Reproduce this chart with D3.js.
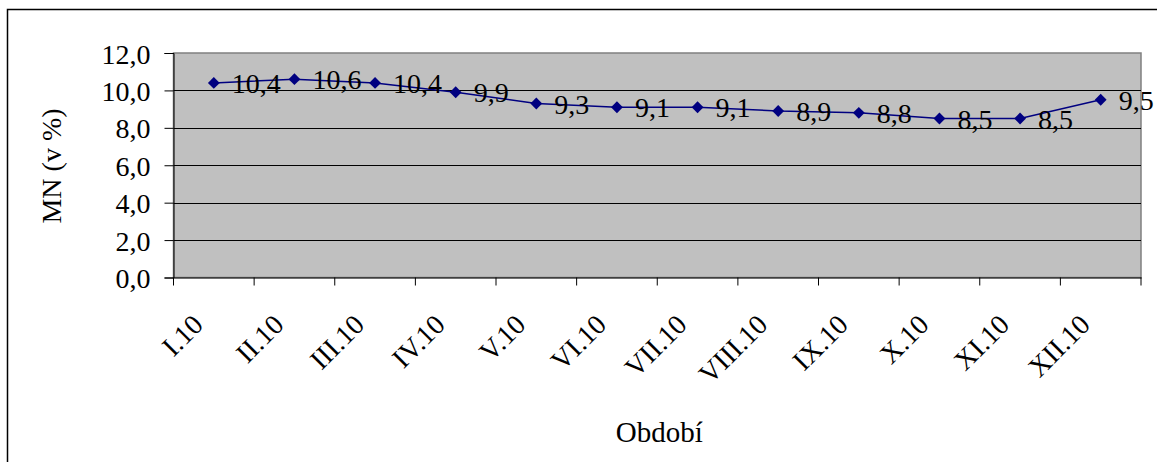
<!DOCTYPE html>
<html>
<head>
<meta charset="utf-8">
<script src="https://cdn.jsdelivr.net/npm/d3@7"></script>
<style>
  body { margin: 0; background: #fff; }
  svg { display: block; font-family: "Liberation Serif", "Times New Roman", serif; }
</style>
</head>
<body>
<script>
var categories = ["I.10", "II.10", "III.10", "IV.10", "V.10", "VI.10", "VII.10", "VIII.10", "IX.10", "X.10", "XI.10", "XII.10"];
var values = [10.4, 10.6, 10.4, 9.9, 9.3, 9.1, 9.1, 8.9, 8.8, 8.5, 8.5, 9.5];
var yTicks = [0, 2, 4, 6, 8, 10, 12];

var width = 1157, height = 462;
var plotLeft = 173.5, plotRight = 1141, plotTop = 53, plotBottom = 277.5;
var fs = 28;

var svg = d3.select("body").append("svg").attr("width", width).attr("height", height);

// outer frame of the chart
svg.append("rect")
  .attr("x", 7.5).attr("y", 9.5)
  .attr("width", 1200).attr("height", 500)
  .attr("fill", "none").attr("stroke", "#000").attr("stroke-width", 1.5);

var x = d3.scaleBand().domain(categories).range([plotLeft, plotRight]);
var y = d3.scaleLinear().domain([0, 12]).range([plotBottom, plotTop]);

svg.append("rect")
  .attr("x", plotLeft).attr("y", plotTop)
  .attr("width", plotRight - plotLeft).attr("height", plotBottom - plotTop)
  .attr("fill", "#c0c0c0").attr("stroke", "#808080").attr("stroke-width", 1.5);

// grid
svg.append("g").selectAll("line").data(yTicks.slice(1, -1)).join("line")
  .attr("x1", plotLeft).attr("x2", plotRight)
  .attr("y1", (d) => Math.round(y(d)) + 0.5).attr("y2", (d) => Math.round(y(d)) + 0.5)
  .attr("stroke", "#000");

var fmt = (d) => d.toFixed(1).replace(".", ",");

var yAxis = svg.append("g")
  .attr("transform", `translate(${plotLeft},0)`)
  .call(d3.axisLeft(y).tickValues(yTicks).tickFormat(fmt).tickSize(9).tickPadding(14));
yAxis.select(".domain").attr("stroke", "#000");
yAxis.selectAll("text").attr("font-size", fs).attr("font-family", "Liberation Serif").attr("fill", "#000").attr("dy", "0.36em");

var xAxis = svg.append("g")
  .attr("transform", `translate(0,${plotBottom})`)
  .call(d3.axisBottom(x).tickSize(0).tickFormat(""));
xAxis.select(".domain").attr("stroke", "#000");

// tick marks between categories
svg.append("g").selectAll("line").data(d3.range(categories.length + 1)).join("line")
  .attr("x1", (i) => plotLeft + i * x.step()).attr("x2", (i) => plotLeft + i * x.step())
  .attr("y1", plotBottom).attr("y2", plotBottom + 8)
  .attr("stroke", "#000");

svg.append("g").selectAll("text").data(categories).join("text")
  .attr("transform", (d) => `translate(${x(d) + x.bandwidth() / 2 - 16},${plotBottom + 42}) rotate(-45)`)
  .attr("text-anchor", "end")
  .attr("font-size", fs)
  .attr("dy", "0.35em")
  .text((d) => d);

var line = d3.line()
  .x((d, i) => x(categories[i]) + x.bandwidth() / 2)
  .y((d) => y(d));

svg.append("path").datum(values)
  .attr("d", line)
  .attr("fill", "none").attr("stroke", "#000080").attr("stroke-width", 1.5);

svg.append("g").selectAll("path").data(values).join("path")
  .attr("d", d3.symbol(d3.symbolSquare, 70))
  .attr("transform", (d, i) => `translate(${x(categories[i]) + x.bandwidth() / 2},${y(d)}) rotate(45)`)
  .attr("fill", "#000080");

svg.append("g").selectAll("text").data(values).join("text")
  .attr("x", (d, i) => x(categories[i]) + x.bandwidth() / 2 + 18)
  .attr("y", (d) => y(d))
  .attr("dy", "0.36em")
  .attr("font-size", fs)
  .text(fmt);

svg.append("text")
  .attr("transform", "translate(61,166) rotate(-90)")
  .attr("text-anchor", "middle")
  .attr("font-size", fs)
  .text("MN (v %)");

svg.append("text")
  .attr("x", (plotLeft + plotRight) / 2 + 2).attr("y", 442)
  .attr("text-anchor", "middle")
  .attr("font-size", 29)
  .text("Období");
</script>
</body>
</html>
